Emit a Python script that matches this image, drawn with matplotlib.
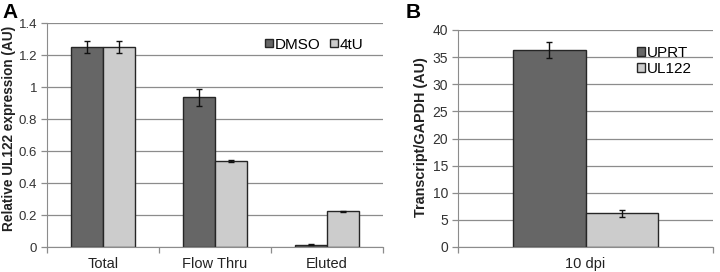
import matplotlib
matplotlib.use("Agg")
import matplotlib.pyplot as plt
import numpy as np

plt.rcParams['font.family'] = ['Liberation Sans', 'DejaVu Sans']

# Panel A data
cats_a = ["Total", "Flow Thru", "Eluted"]
dmso = [1.25, 0.935, 0.015]
dmso_err = [0.04, 0.052, 0.003]
t4u = [1.25, 0.535, 0.222]
t4u_err = [0.038, 0.006, 0.005]
yticks_a = [0, 0.2, 0.4, 0.6, 0.8, 1, 1.2, 1.4]
yticklabels_a = ["0", "0.2", "0.4", "0.6", "0.8", "1", "1.2", "1.4"]

# Panel B data
cats_b = ["10 dpi"]
uprt = [36.3]
uprt_err = [1.5]
ul122 = [6.2]
ul122_err = [0.6]
yticks_b = [0, 5, 10, 15, 20, 25, 30, 35, 40]

dark = "#666666"
light = "#cccccc"
edge = "#262626"
grid_c = "#8c8c8c"
txt_c = "#333333"

fig = plt.figure(figsize=(7.2, 2.72), dpi=100)
axA = fig.add_axes([47/720, 25/272, 336/720, 224/272])
axB = fig.add_axes([458/720, 25/272, 255/720, 217/272])

bw = 0.286

def style(ax, ncat, ysize):
    ax.set_axisbelow(True)
    ax.yaxis.grid(True, color=grid_c, linewidth=0.9)
    for s in ["top", "right"]:
        ax.spines[s].set_visible(False)
    ax.spines["left"].set_color(grid_c)
    ax.spines["bottom"].set_color(grid_c)
    ax.tick_params(axis="y", colors=grid_c, labelcolor=txt_c, labelsize=ysize, length=4, width=0.9, pad=3)
    ax.set_xlim(-0.5, ncat - 0.5)
    ax.set_xticks(np.arange(ncat))
    ax.tick_params(axis="x", length=0, labelsize=10.5, labelcolor="#222222", pad=7)
    ax.set_xticks(np.arange(ncat + 1) - 0.5, minor=True)
    ax.tick_params(axis="x", which="minor", length=4, color=grid_c, width=0.9)

xa = np.arange(len(cats_a))
ekw = dict(elinewidth=1.0, capthick=1.0, ecolor="#111111")
axA.bar(xa - bw/2, dmso, bw, color=dark, edgecolor=edge, linewidth=1.0, label="DMSO",
        yerr=dmso_err, capsize=2.5, error_kw=ekw)
axA.bar(xa + bw/2, t4u, bw, color=light, edgecolor=edge, linewidth=1.0, label="4tU",
        yerr=t4u_err, capsize=2.5, error_kw=ekw)
style(axA, len(cats_a), 9.5)
axA.set_ylim(0, 1.4)
axA.set_yticks(yticks_a)
axA.set_yticklabels(yticklabels_a)
axA.set_xticklabels(cats_a)
axA.set_ylabel("Relative UL122 expression (AU)", fontsize=9.8, fontweight="bold", color="#222222")
axA.yaxis.set_label_coords((16 - 47) / 336, (247 - 128) / 224)
axA.legend(loc="upper left", bbox_to_anchor=(0.649, 0.935), ncol=2, frameon=False, fontsize=11,
           handlelength=0.5, handleheight=0.5, handletextpad=0.15, columnspacing=0.6,
           borderaxespad=0, borderpad=0)

xb = np.arange(len(cats_b))
axB.bar(xb - bw/2, uprt, bw, color=dark, edgecolor=edge, linewidth=1.0, label="UPRT",
        yerr=uprt_err, capsize=2.5, error_kw=ekw)
axB.bar(xb + bw/2, ul122, bw, color=light, edgecolor=edge, linewidth=1.0, label="UL122",
        yerr=ul122_err, capsize=2.5, error_kw=ekw)
style(axB, len(cats_b), 10)
axB.set_ylim(0, 40)
axB.set_yticks(yticks_b)
axB.set_xticklabels(cats_b)
axB.set_ylabel("Transcript/GAPDH (AU)", fontsize=10.4, fontweight="bold", color="#222222")
axB.yaxis.set_label_coords((428 - 458) / 255, (247 - 137) / 217)
axB.legend(loc="upper left", bbox_to_anchor=(0.702, 0.925), frameon=False, fontsize=11,
           handlelength=0.5, handleheight=0.5, handletextpad=0.15, labelspacing=0.12,
           borderaxespad=0, borderpad=0)

fig.text(2/720, 1 - 13/272, "A", fontsize=15, fontweight="bold", va="center", ha="left")
fig.text(406/720, 1 - 13/272, "B", fontsize=15, fontweight="bold", va="center", ha="left")

fig.savefig("out.png", dpi=100)
